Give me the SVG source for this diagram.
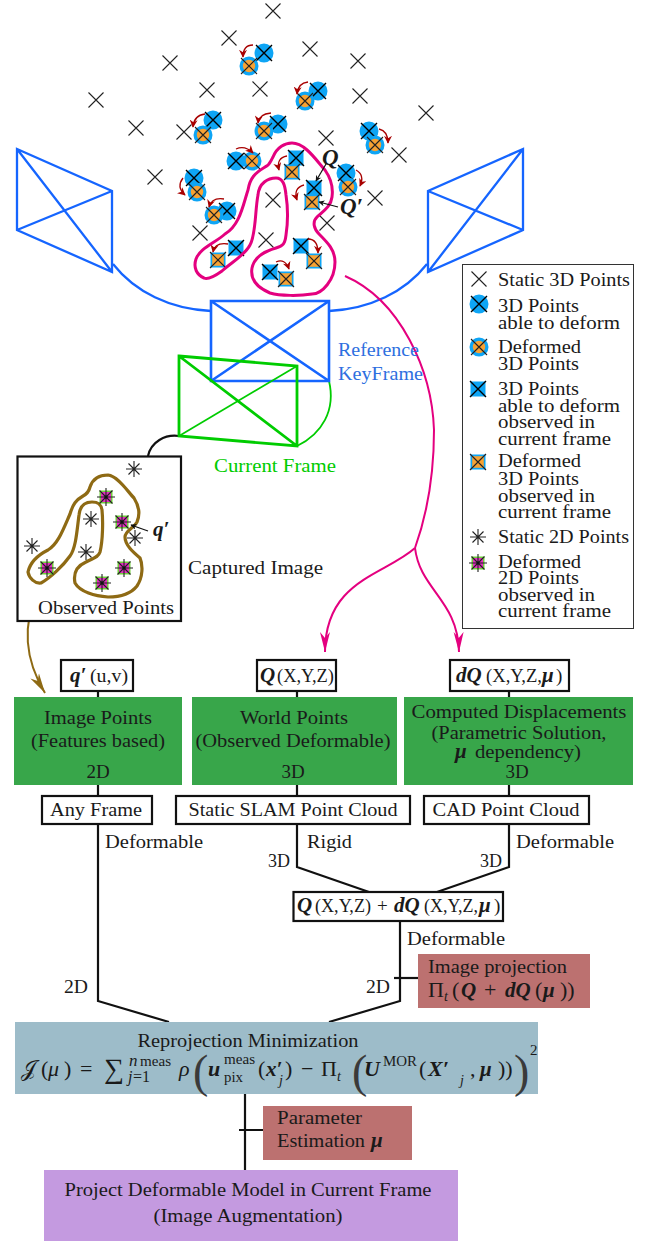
<svg xmlns="http://www.w3.org/2000/svg" width="654" height="1241" viewBox="0 0 654 1241">
<style>
text{font-family:"Liberation Serif","DejaVu Serif",serif;font-size:19px;fill:#1a1a1a}
.m{text-anchor:middle}
.bi{font-weight:bold;font-style:italic;font-size:21px}
.i{font-style:italic}
.s{font-size:14px}
.f{font-size:22px}
.big{font-size:46px;font-weight:normal;fill:#3a3a3a}
.cam{fill:none;stroke:#1565ff;stroke-width:2.3}
.arc{fill:none;stroke:#1565ff;stroke-width:2.3}
.gr{fill:none;stroke:#00cc00;stroke-width:2.8}
.box{fill:#fff;stroke:#111;stroke-width:2.2}
.line{fill:none;stroke:#111;stroke-width:2.2}
.pink{fill:none;stroke:#e4007f;stroke-width:3}
.pk{fill:none;stroke:#e4007f;stroke-width:2}
.brown{fill:none;stroke:#8e6a14;stroke-width:3.2}
.red{fill:none;stroke:#a80000;stroke-width:1.3;marker-end:url(#mr)}
.blk{fill:none;stroke:#111;stroke-width:1.2;marker-end:url(#mk)}
.x{stroke:#222;stroke-width:1.1;fill:none}
.xb{stroke:#000;stroke-width:1.4;fill:none}
</style>
<defs>
<marker id="mr" viewBox="0 0 10 10" refX="9" refY="5" markerUnits="userSpaceOnUse" markerWidth="8" markerHeight="8" orient="auto"><path d="M10,5L0,0L3,5L0,10Z" fill="#a80000"/></marker>
<marker id="mk" viewBox="0 0 10 10" refX="9" refY="5" markerUnits="userSpaceOnUse" markerWidth="7" markerHeight="6" orient="auto"><path d="M10,5L0,0L3,5L0,10Z" fill="#111"/></marker>
<marker id="mp" viewBox="0 0 20 10" refX="20" refY="5" markerUnits="userSpaceOnUse" markerWidth="20" markerHeight="11" orient="auto"><path d="M20,5L0,0L6,5L0,10Z" fill="#e4007f"/></marker>
<marker id="mb" viewBox="0 0 20 10" refX="20" refY="5" markerUnits="userSpaceOnUse" markerWidth="20" markerHeight="13" orient="auto"><path d="M20,5L0,0L6,5L0,10Z" fill="#8e6a14"/></marker>
<g id="sx"><path class="x" d="M-7.5,-7.5L7.5,7.5M-7.5,7.5L7.5,-7.5"/></g>
<g id="cb"><circle r="9.5" fill="#0ea5f5"/><path class="xb" d="M-8,-8L8,8M-8,8L8,-8"/></g>
<g id="co"><circle r="9.5" fill="#0ea5f5"/><circle r="6.2" fill="#f7a233"/><path class="x" d="M-8,-8L8,8M-8,8L8,-8"/></g>
<g id="sb"><rect x="-7.5" y="-7.5" width="15" height="15" fill="#0ea5f5"/><path class="xb" d="M-8,-8L8,8M-8,8L8,-8"/></g>
<g id="so"><rect x="-7.5" y="-7.5" width="15" height="15" fill="#0ea5f5"/><rect x="-5.8" y="-5.8" width="11.6" height="11.6" fill="#f7a233"/><path class="x" d="M-8,-8L8,8M-8,8L8,-8"/></g>
<g id="st"><path class="x" d="M-8,0L8,0M0,-8L0,8M-5.5,-5.5L5.5,5.5M-5.5,5.5L5.5,-5.5"/></g>
<g id="sm"><rect x="-6.5" y="-6.5" width="13" height="13" fill="#6fcf3a"/><rect x="-5" y="-5" width="10" height="10" fill="#e22ec0"/><path class="x" d="M-9,0L9,0M0,-9L0,9M-6.5,-6.5L6.5,6.5M-6.5,6.5L6.5,-6.5"/><circle r="1.5" fill="#111"/></g>
</defs>

<g id="static-points">
<use href="#sx" x="273" y="11"/><use href="#sx" x="229" y="38"/><use href="#sx" x="310" y="49"/><use href="#sx" x="170" y="63"/><use href="#sx" x="358" y="61"/><use href="#sx" x="207" y="90"/><use href="#sx" x="260" y="89"/><use href="#sx" x="360" y="96"/><use href="#sx" x="96" y="100"/><use href="#sx" x="426" y="113"/><use href="#sx" x="136" y="128"/><use href="#sx" x="184" y="132"/><use href="#sx" x="326" y="138"/><use href="#sx" x="399" y="155"/><use href="#sx" x="155" y="177"/><use href="#sx" x="375" y="198"/><use href="#sx" x="273" y="200"/><use href="#sx" x="327" y="223"/><use href="#sx" x="200" y="233"/><use href="#sx" x="266" y="240"/>
</g>
<g id="deformable-points">
<use href="#cb" x="264" y="53"/><use href="#co" x="249" y="66"/>
<use href="#cb" x="318" y="91"/><use href="#co" x="305" y="101"/>
<use href="#cb" x="213" y="120"/><use href="#co" x="203" y="135"/>
<use href="#cb" x="278" y="124"/><use href="#co" x="264" y="131"/>
<use href="#cb" x="369" y="131"/><use href="#co" x="375" y="145"/>
<use href="#cb" x="236" y="161"/><use href="#co" x="252" y="161"/>
<use href="#cb" x="194" y="178"/><use href="#co" x="197" y="192"/>
<use href="#cb" x="346" y="173"/><use href="#co" x="348" y="187"/>
<use href="#cb" x="227" y="211"/><use href="#co" x="214" y="215"/>
<use href="#sb" x="296" y="158"/><use href="#so" x="292" y="172"/>
<use href="#sb" x="314" y="188"/><use href="#so" x="312" y="202"/>
<use href="#sb" x="236" y="248"/><use href="#so" x="218" y="260"/>
<use href="#sb" x="301" y="246"/><use href="#so" x="314" y="261"/>
<use href="#sb" x="270" y="272"/><use href="#so" x="286" y="279"/>
</g>
<g id="deform-arrows">
<path class="red" d="M253,45Q243,45 243,57"/><path class="red" d="M308,82Q298,83 297,94"/><path class="red" d="M205,114Q194,115 193,127"/><path class="red" d="M271,113Q259,114 258,123"/><path class="red" d="M379,129Q388,131 388,143"/><path class="red" d="M236,149Q245,145 253,153"/><path class="red" d="M183,178Q176,187 185,195"/><path class="red" d="M356,170Q365,175 360,186"/><path class="red" d="M224,199Q212,197 209,207"/><path class="red" d="M287,156Q276,158 279,170"/><path class="red" d="M304,185Q293,188 297,200"/><path class="red" d="M228,244Q215,242 213,252"/><path class="red" d="M308,239Q318,239 318,253"/><path class="red" d="M276,262Q285,258 289,269"/>
</g>
<path id="observed-region" class="pink" d="M273,157C277,147 285,143 292,143C305,143 316,160 325,170C332,180 333,190 332,197C331,207 322,212 317,217C312,222 314,229 319,234C328,243 335,250 335,262C335,280 322,294 312,294C300,296 280,296 270,293C258,288 250,280 252,268C254,258 262,252 276,248C283,246 285,244 286,235C288,222 288,208 286,195C285,185 283,178 276,178C268,178 259,183 258,195C255,210 256,235 250,245C245,255 232,262 222,271C215,276 208,280 204,278C197,275 193,268 196,259C200,248 215,243 225,234C240,225 243,205 248,190C250,178 255,173 265,167C270,165 270,162 273,157Z"/>
<g id="labels-q">
<text class="bi" style="font-size:23px" x="322" y="165">Q</text>
<path class="blk" d="M326,164L316,181"/>
<text class="bi" style="font-size:23px" x="340" y="214">Q′</text>
<path class="blk" d="M338,207L319,202"/>
</g>

<g id="connectors">
<path class="arc" d="M113,264C135,292 170,309 211,311"/>
<path class="arc" d="M329,311C370,309 405,292 427,264"/>
<path class="line" d="M179,436C165,434 151,442 148,456"/>
<path class="gr" style="stroke-width:1.8" d="M329,381C336,410 322,434 297,446"/>
<path class="pk" d="M345,276C400,300 432,370 434,430C434,480 425,520 415,548"/>
<path class="pk" marker-end="url(#mp)" d="M415,548C385,575 325,580 325,652"/>
<path class="pk" marker-end="url(#mp)" d="M415,548C420,590 458,600 459,652"/>
<path class="brown" style="stroke-width:2" marker-end="url(#mb)" d="M38,590C22,625 25,660 45,693"/>
<path class="line" d="M98,691V697M297,691V697M509,691V697"/>
<path class="line" d="M98,785V796M297,785V796M509,785V796"/>
<path class="line" d="M98,824V1001L169,1022"/>
<path class="line" d="M297,824V867L369,892"/>
<path class="line" d="M509,824V867L437,892"/>
<path class="line" d="M400,921V1001L329,1022"/>
<path class="line" d="M394,978H418"/>
<path class="line" d="M245,1094V1170M239,1130H268"/>
</g>

<g id="left-camera"><path class="cam" d="M17,149L112,191V272L17,230ZM17,149L112,272M17,230L112,191"/></g>
<g id="right-camera"><path class="cam" d="M523,149L428,191V272L523,230ZM523,149L428,272M523,230L428,191"/></g>
<g id="reference-keyframe"><path class="cam" style="stroke-width:2.6" d="M211,301H329V381H211ZM211,301L329,381M211,381L329,301"/>
<text x="338" y="356" style="fill:#2e6fe0" textLength="81" lengthAdjust="spacingAndGlyphs">Reference</text>
<text x="338" y="380" style="fill:#2e6fe0" textLength="85" lengthAdjust="spacingAndGlyphs">KeyFrame</text></g>
<g id="current-frame"><path class="gr" d="M179,356L297,366V446L179,436ZM179,356L297,446"/><path class="gr" style="stroke-width:1.7" d="M179,436L297,366"/>
<text x="214" y="472" style="fill:#00cc00" textLength="122" lengthAdjust="spacingAndGlyphs">Current Frame</text></g>

<g id="captured-image">
<rect x="17.5" y="456.5" width="163.5" height="164.5" fill="#fff" stroke="#111" stroke-width="2.2"/>
<path class="brown" d="M90,487C93,478 100,475 108,475C118,476 128,492 134,498C139,506 140,515 137,522C134,528 125,531 125,537C125,545 133,552 140,558C143,565 143,577 137,586C130,595 118,597 108,597C95,596 80,592 75,583C73,573 77,566 86,562C93,558 98,558 100,552C103,540 103,520 102,510C101,503 97,502 92,502C85,502 80,505 79,515C77,530 76,548 70,556C63,566 50,578 41,583C35,584 29,578 28,572C30,563 38,555 48,550C58,544 63,530 70,514C73,504 76,500 83,496C87,494 89,491 90,487Z"/>
<use href="#st" x="134" y="469"/><use href="#st" x="91" y="519"/><use href="#st" x="135" y="538"/><use href="#st" x="86" y="552"/><use href="#st" x="32" y="546"/>
<use href="#sm" x="106" y="497"/><use href="#sm" x="122" y="522"/><use href="#sm" x="124" y="568"/><use href="#sm" x="102" y="583"/><use href="#sm" x="47" y="568"/>
<path class="blk" d="M148,531L131,525"/>
<text class="bi" x="153" y="536">q′</text>
<text x="38" y="614" textLength="136" lengthAdjust="spacingAndGlyphs">Observed Points</text>
</g>
<text id="captured-label" x="188" y="574" textLength="135" lengthAdjust="spacingAndGlyphs">Captured Image</text>

<g id="legend">
<rect x="462.5" y="264.5" width="171" height="364" fill="#fff" stroke="#333" stroke-width="1"/>
<use href="#sx" x="479" y="279"/><use href="#cb" x="479" y="304"/><use href="#co" x="479" y="347"/><use href="#sb" x="478" y="389"/><use href="#so" x="478" y="462"/><use href="#st" x="478" y="537"/><use href="#sm" x="478" y="563"/>
<text x="498" y="286" textLength="132" lengthAdjust="spacingAndGlyphs">Static 3D Points</text>
<text><tspan x="498" y="312" textLength="81" lengthAdjust="spacingAndGlyphs">3D Points</tspan><tspan x="498" y="329" textLength="122" lengthAdjust="spacingAndGlyphs">able to deform</tspan></text>
<text><tspan x="498" y="353" textLength="83" lengthAdjust="spacingAndGlyphs">Deformed</tspan><tspan x="498" y="370" textLength="81" lengthAdjust="spacingAndGlyphs">3D Points</tspan></text>
<text><tspan x="498" y="395" textLength="81" lengthAdjust="spacingAndGlyphs">3D Points</tspan><tspan x="498" y="412" textLength="122" lengthAdjust="spacingAndGlyphs">able to deform</tspan><tspan x="498" y="428" textLength="97" lengthAdjust="spacingAndGlyphs">observed in</tspan><tspan x="498" y="445" textLength="113" lengthAdjust="spacingAndGlyphs">current frame</tspan></text>
<text><tspan x="498" y="467" textLength="83" lengthAdjust="spacingAndGlyphs">Deformed</tspan><tspan x="498" y="485" textLength="81" lengthAdjust="spacingAndGlyphs">3D Points</tspan><tspan x="498" y="502" textLength="97" lengthAdjust="spacingAndGlyphs">observed in</tspan><tspan x="498" y="518" textLength="113" lengthAdjust="spacingAndGlyphs">current frame</tspan></text>
<text x="498" y="543" textLength="131" lengthAdjust="spacingAndGlyphs">Static 2D Points</text>
<text><tspan x="498" y="568" textLength="83" lengthAdjust="spacingAndGlyphs">Deformed</tspan><tspan x="498" y="584" textLength="81" lengthAdjust="spacingAndGlyphs">2D Points</tspan><tspan x="498" y="601" textLength="97" lengthAdjust="spacingAndGlyphs">observed in</tspan><tspan x="498" y="617" textLength="113" lengthAdjust="spacingAndGlyphs">current frame</tspan></text>
</g>

<g id="q-prime-box"><rect class="box" x="61" y="660" width="72" height="31"/><text x="70" y="682"><tspan class="bi">q′</tspan><tspan x="90" textLength="38" lengthAdjust="spacingAndGlyphs">(u,v)</tspan></text></g>
<g id="q-box"><rect class="box" x="257" y="660" width="79" height="31"/><text x="260" y="682"><tspan class="bi">Q</tspan><tspan x="277" textLength="57" lengthAdjust="spacingAndGlyphs">(X,Y,Z)</tspan></text></g>
<g id="dq-box"><rect class="box" x="450" y="660" width="119" height="31"/><text x="456" y="682"><tspan class="bi">dQ</tspan><tspan x="486" textLength="56" lengthAdjust="spacingAndGlyphs">(X,Y,Z,</tspan><tspan class="bi" x="542">μ</tspan><tspan x="556">)</tspan></text></g>

<g id="image-points"><rect x="14" y="697" width="168" height="88" fill="#38a64a"/><text class="m" x="98" y="724" textLength="108" lengthAdjust="spacingAndGlyphs">Image Points</text><text class="m" x="98" y="747" textLength="134" lengthAdjust="spacingAndGlyphs">(Features based)</text><text class="m" x="98" y="778">2D</text></g>
<g id="world-points"><rect x="192" y="697" width="205" height="88" fill="#38a64a"/><text class="m" x="294" y="724" textLength="108" lengthAdjust="spacingAndGlyphs">World Points</text><text class="m" x="293" y="747" textLength="195" lengthAdjust="spacingAndGlyphs">(Observed Deformable)</text><text class="m" x="293" y="778">3D</text></g>
<g id="computed-displacements"><rect x="404" y="697" width="229" height="88" fill="#38a64a"/><text class="m" x="519" y="718" textLength="215" lengthAdjust="spacingAndGlyphs">Computed Displacements</text><text class="m" x="519" y="739" textLength="175" lengthAdjust="spacingAndGlyphs">(Parametric Solution,</text><text y="758"><tspan class="bi" x="455">μ</tspan><tspan x="475" textLength="106" lengthAdjust="spacingAndGlyphs">dependency)</tspan></text><text class="m" x="517" y="778">3D</text></g>

<g id="any-frame"><rect class="box" x="42" y="796" width="110" height="28"/><text class="m" x="96" y="816" textLength="92" lengthAdjust="spacingAndGlyphs">Any Frame</text></g>
<g id="static-slam"><rect class="box" x="176" y="796" width="234" height="28"/><text class="m" x="293" y="816" textLength="209" lengthAdjust="spacingAndGlyphs">Static SLAM Point Cloud</text></g>
<g id="cad-cloud"><rect class="box" x="424" y="796" width="165" height="28"/><text class="m" x="506" y="816" textLength="147" lengthAdjust="spacingAndGlyphs">CAD Point Cloud</text></g>

<g id="edge-labels">
<text x="105" y="848" textLength="98" lengthAdjust="spacingAndGlyphs">Deformable</text>
<text x="307" y="848" textLength="45" lengthAdjust="spacingAndGlyphs">Rigid</text>
<text x="516" y="848" textLength="98" lengthAdjust="spacingAndGlyphs">Deformable</text>
<text x="268" y="867" textLength="22" lengthAdjust="spacingAndGlyphs">3D</text><text x="480" y="867" textLength="22" lengthAdjust="spacingAndGlyphs">3D</text>
<text x="407" y="945" textLength="98" lengthAdjust="spacingAndGlyphs">Deformable</text>
<text x="64" y="993" textLength="24" lengthAdjust="spacingAndGlyphs">2D</text><text x="366" y="993" textLength="24" lengthAdjust="spacingAndGlyphs">2D</text>
</g>

<g id="sum-box"><rect class="box" x="293.5" y="892" width="209.5" height="29"/><text y="912"><tspan class="bi" x="297">Q</tspan><tspan x="315" textLength="56" lengthAdjust="spacingAndGlyphs">(X,Y,Z)</tspan><tspan x="377">+</tspan><tspan class="bi" x="394">dQ</tspan><tspan x="424" textLength="54" lengthAdjust="spacingAndGlyphs">(X,Y,Z,</tspan><tspan class="bi" x="479">μ</tspan><tspan x="494">)</tspan></text></g>

<g id="image-projection"><rect x="418" y="954" width="172" height="54" fill="#bc7170"/><text x="428" y="973" textLength="139" lengthAdjust="spacingAndGlyphs">Image projection</text><text y="997"><tspan class="f" x="428">Π</tspan><tspan class="i s" x="444" dy="4">t</tspan><tspan class="f" x="452" dy="-4">(</tspan><tspan class="bi" x="461">Q</tspan><tspan class="f" x="484">+</tspan><tspan class="bi" x="505">dQ</tspan><tspan class="f" x="535">(</tspan><tspan class="bi" x="543">μ</tspan><tspan class="f" x="560">))</tspan></text></g>

<g id="reprojection">
<rect x="15" y="1022" width="523" height="72" fill="#9dbcc9"/>
<text class="m" x="248" y="1047" textLength="221" lengthAdjust="spacingAndGlyphs">Reprojection Minimization</text>
<text y="1076"><tspan class="f" x="21" style="font-family:'DejaVu Serif','DejaVu Sans','Noto Sans',serif">𝒥</tspan><tspan class="f" x="41">(</tspan><tspan class="i f" x="48">μ</tspan><tspan class="f" x="64">)</tspan><tspan class="f" x="80">=</tspan><tspan x="104" y="1078" style="font-size:28px">∑</tspan><tspan class="i" style="font-size:17px" x="129" y="1066">n</tspan><tspan class="s" x="140" y="1066" textLength="31" lengthAdjust="spacingAndGlyphs">meas</tspan><tspan class="i" style="font-size:16px" x="128" y="1082">j</tspan><tspan style="font-size:16px" x="133" y="1082">=1</tspan><tspan class="i f" x="179" y="1076">ρ</tspan><tspan class="big" x="193" y="1087">(</tspan><tspan class="bi" style="font-size:22px" x="208" y="1076">u</tspan><tspan class="s" x="224" y="1064" textLength="31" lengthAdjust="spacingAndGlyphs">meas</tspan><tspan class="s" x="224" y="1082" textLength="19" lengthAdjust="spacingAndGlyphs">pix</tspan><tspan class="f" x="258" y="1076">(</tspan><tspan class="bi" x="266" y="1076">x′</tspan><tspan class="i s" x="279" y="1085">j</tspan><tspan class="f" x="285" y="1076">)</tspan><tspan class="f" x="301" y="1076">−</tspan><tspan class="f" x="321" y="1076">Π</tspan><tspan class="i s" x="337" y="1081">t</tspan><tspan class="big" x="352" y="1087">(</tspan><tspan class="bi" style="font-size:22px" x="364" y="1076">U</tspan><tspan class="s" x="383" y="1066" textLength="34" lengthAdjust="spacingAndGlyphs">MOR</tspan><tspan class="f" x="419" y="1076">(</tspan><tspan class="bi" style="font-size:22px" x="428" y="1076">X′</tspan><tspan class="i s" x="460" y="1085">j</tspan><tspan class="f" x="470" y="1076">,</tspan><tspan class="bi" x="480" y="1076">μ</tspan><tspan class="f" x="498" y="1076">))</tspan><tspan class="big" x="514" y="1087">)</tspan><tspan style="font-size:15px" x="530" y="1055">2</tspan></text>
</g>

<g id="parameter-estimation"><rect x="263" y="1106" width="149" height="54" fill="#bc7170"/><text x="277" y="1124" textLength="85" lengthAdjust="spacingAndGlyphs">Parameter</text><text y="1147"><tspan x="277" textLength="88" lengthAdjust="spacingAndGlyphs">Estimation</tspan><tspan class="bi" x="371">μ</tspan></text></g>
<g id="project-model"><rect x="44" y="1170" width="414" height="71" fill="#c49ae0"/><text class="m" x="248" y="1196" textLength="367" lengthAdjust="spacingAndGlyphs">Project Deformable Model in Current Frame</text><text class="m" x="248" y="1222" textLength="189" lengthAdjust="spacingAndGlyphs">(Image Augmentation)</text></g>
</svg>
